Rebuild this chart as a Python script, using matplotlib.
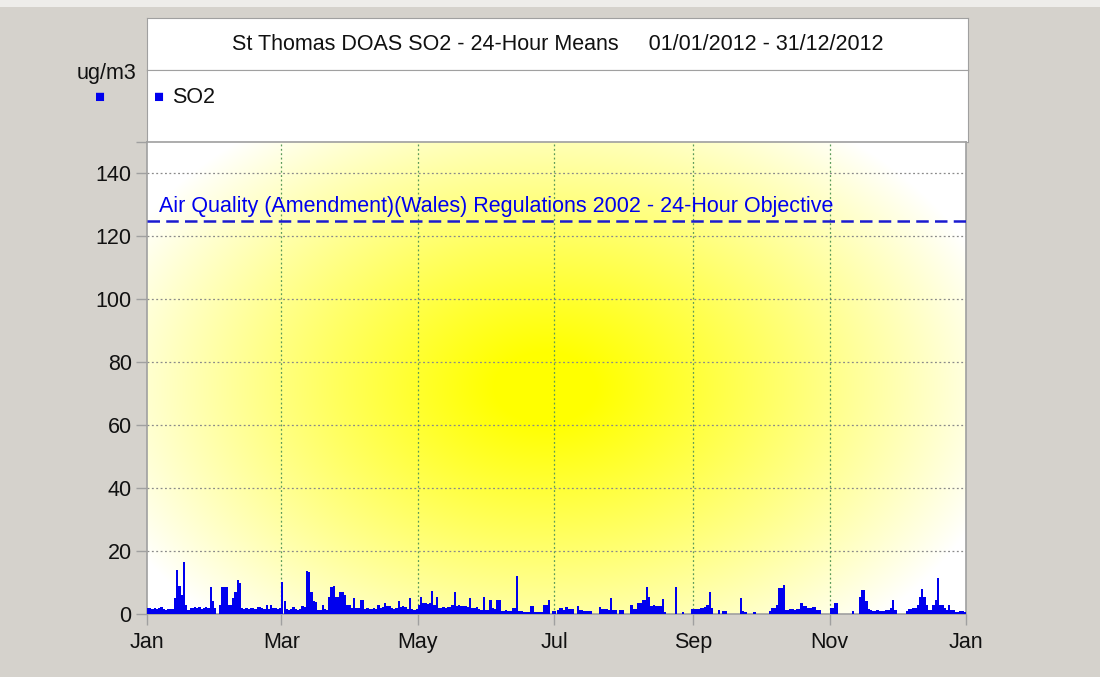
import numpy as np
import matplotlib
matplotlib.use("Agg")
import matplotlib.pyplot as plt
import matplotlib.dates as mdates
import datetime as dt

plt.rcParams['font.family'] = ['Liberation Sans', 'DejaVu Sans']

# daily SO2 means, ug/m3, one list per month of 2012
jan = [1.8, 2.0, 1.7, 1.9, 1.6, 2.0, 2.1, 1.5, 1.4, 1.6, 1.5, 1.7, 5.0, 14.0, 9.0, 6.0,
       16.4, 3.0, 1.3, 2.0, 1.8, 2.2, 1.9, 2.1, 1.7, 2.0, 2.3, 1.9, 8.7, 4.0, 2.0]
feb = [0, 3.0, 8.7, 8.7, 8.5, 3.0, 2.8, 5.0, 7.0, 10.8, 9.7, 1.8, 1.7, 2.0, 1.6, 1.8,
       1.9, 1.7, 2.3, 2.2, 1.8, 1.7, 3.0, 1.5, 3.0, 1.8, 1.9, 1.6, 1.8]
mar = [10.3, 4.0, 1.5, 1.4, 1.6, 2.3, 1.5, 1.4, 1.6, 2.6, 2.3, 13.7, 13.2, 7.0, 4.0, 3.8,
       1.3, 1.2, 3.0, 1.5, 1.4, 5.5, 8.7, 9.0, 5.5, 5.5, 7.0, 7.0, 6.0, 3.0, 3.0]
apr = [1.8, 5.2, 2.0, 2.0, 4.5, 4.5, 1.6, 1.8, 1.5, 1.7, 1.9, 1.6, 3.0, 2.0, 2.2, 3.6,
       2.5, 2.4, 1.8, 1.7, 1.9, 4.0, 2.3, 2.4, 2.2, 1.6, 5.0, 1.5, 1.4, 1.6]
may = [3.0, 5.5, 3.4, 3.4, 3.2, 3.5, 7.3, 2.8, 5.5, 2.0, 1.8, 2.2, 2.0, 2.3, 2.1, 3.0,
       7.0, 2.6, 2.8, 2.5, 2.7, 2.4, 2.2, 5.0, 2.0, 1.8, 2.2, 1.5, 1.3, 5.5, 1.3]
jun = [1.2, 4.5, 1.8, 1.6, 4.5, 4.5, 1.1, 1.0, 1.2, 1.0, 1.1, 2.0, 2.0, 12.2, 1.0, 1.0,
       0.5, 0.5, 0.5, 2.6, 2.6, 0.6, 0.5, 0.6, 0.5, 2.8, 2.8, 4.5, 0, 1.0]
jul = [1.0, 1.2, 1.8, 1.8, 1.3, 2.3, 1.6, 1.5, 1.7, 0, 2.6, 1.3, 1.3, 1.0, 1.0, 1.0,
       1.0, 0, 0, 0, 2.3, 1.5, 1.5, 1.5, 1.4, 5.0, 1.3, 1.3, 0, 1.3, 1.3]
aug = [0, 0, 0, 2.8, 1.5, 1.5, 3.4, 3.4, 4.5, 4.5, 8.5, 5.5, 2.5, 2.8, 2.4, 2.6,
       2.5, 4.7, 0.7, 0, 0, 0, 0, 8.7, 0, 0, 0.7, 0, 0, 0, 1.5]
sep = [1.5, 1.6, 1.6, 2.0, 2.0, 2.1, 2.8, 6.9, 1.8, 0, 0, 1.3, 0, 1.0, 1.0, 0,
       0, 0, 0, 0, 0, 5.0, 1.0, 0.5, 0, 0, 0, 0.7, 0, 0]
oct_ = [0, 0, 0, 0, 1.0, 1.8, 1.8, 2.8, 8.2, 8.2, 9.2, 1.3, 1.3, 1.6, 1.6, 1.3,
        1.6, 1.6, 3.4, 2.6, 2.6, 1.8, 1.8, 2.3, 2.3, 1.3, 1.3, 0, 0, 0, 0]
nov = [1.8, 1.8, 3.6, 3.6, 0, 0, 0, 0, 0, 0, 1.0, 0, 0, 5.5, 7.6, 7.6,
       4.0, 1.6, 1.2, 1.0, 1.1, 1.2, 1.0, 1.1, 1.0, 1.2, 1.3, 2.0, 4.5, 1.3]
dec = [0, 0, 0, 0, 1.0, 1.6, 1.6, 1.8, 1.8, 2.8, 5.5, 7.8, 5.5, 2.8, 1.3, 1.3,
       2.8, 4.5, 11.3, 2.8, 2.8, 1.8, 1.3, 2.8, 1.3, 1.3, 0.7, 0.7, 1.0, 1.0, 0.7]

so2 = jan + feb + mar + apr + may + jun + jul + aug + sep + oct_ + nov + dec
days = [dt.date(2012, 1, 1) + dt.timedelta(days=i) for i in range(len(so2))]

objective = 125
objective_label = "Air Quality (Amendment)(Wales) Regulations 2002 - 24-Hour Objective"
title = "St Thomas DOAS SO2 - 24-Hour Means     01/01/2012 - 31/12/2012"
month_ticks = [dt.date(2012, m, 1) for m in (1, 3, 5, 7, 9, 11)] + [dt.date(2013, 1, 1)]
month_labels = ['Jan', 'Mar', 'May', 'Jul', 'Sep', 'Nov', 'Jan']

W, H = 1100, 677
fs = 15.5
fig = plt.figure(figsize=(W / 100, H / 100), dpi=100, facecolor='#d5d2cc')
border = '#a0a0a0'
blue = '#0000ee'
ink = '#111111'

def box(x0, y0, x1, y1):
    return [x0 / W, 1 - y1 / H, (x1 - x0) / W, (y1 - y0) / H]

# pale strip at the very top
strip = fig.add_axes(box(0, 0, W, 7))
strip.set_facecolor('#eeedea')
strip.set_xticks([]); strip.set_yticks([])
for s in strip.spines.values():
    s.set_visible(False)

# title box
tax = fig.add_axes(box(147, 18, 968, 70))
tax.set_xticks([]); tax.set_yticks([])
for s in tax.spines.values():
    s.set_color(border)
tax.text(0.5, 0.5, title, ha='center', va='center', fontsize=fs, color=ink,
         transform=tax.transAxes)

# legend box
lax = fig.add_axes(box(147, 70, 968, 142))
lax.set_xticks([]); lax.set_yticks([])
for s in lax.spines.values():
    s.set_color(border)
lax.text(0.008, 0.62, '\u25a0', ha='left', va='center', fontsize=12, color=blue,
         transform=lax.transAxes)
lax.text(0.03, 0.62, 'SO2', ha='left', va='center', fontsize=fs, color=ink,
         transform=lax.transAxes)

fig.text(107 / W, 1 - 74 / H, 'ug/m3', ha='center', va='center', fontsize=fs, color=ink)
fig.text(100 / W, 1 - 97 / H, '\u25a0', ha='center', va='center', fontsize=12, color=blue)

# main plot
ax = fig.add_axes(box(147, 142, 966, 614))
ax.set_facecolor('white')

# yellow glow behind the data
ny, nx = 472, 819
yy, xx = np.mgrid[0:ny, 0:nx]
r = np.sqrt(((xx - 398) / 470.0) ** 2 + ((yy - 245) / 325.0) ** 2)
f = np.clip((1 - r) * 1.12, 0, 1) ** 0.95
img = np.ones((ny, nx, 3))
img[..., 2] = 1 - f
ax.imshow(img, extent=[0, 1, 0, 1], transform=ax.transAxes, aspect='auto', zorder=0,
          interpolation='bilinear')

x = mdates.date2num(days)
ax.bar(x, so2, width=1.0, align='edge', color=blue, linewidth=0, zorder=3)

ax.axhline(objective, color='#1a1ad0', linestyle=(0, (5, 2.5)), linewidth=1.8, zorder=4)
ax.text(0.015, 126.2 / 150, objective_label, transform=ax.transAxes,
        ha='left', va='bottom', fontsize=fs, color=blue, zorder=5)

ax.set_xlim(mdates.date2num(dt.date(2012, 1, 1)), mdates.date2num(dt.date(2013, 1, 1)))
ax.set_ylim(0, 150)
ax.set_xticks(mdates.date2num(month_ticks))
ax.set_xticklabels(month_labels)
ax.set_yticks([0, 20, 40, 60, 80, 100, 120, 140, 150])
ax.set_yticklabels(['0', '20', '40', '60', '80', '100', '120', '140', ''])
ax.tick_params(axis='both', labelsize=fs, colors=border, labelcolor=ink,
               length=8, width=1, direction='out')
ax.tick_params(axis='x', pad=5)
ax.tick_params(axis='y', pad=3)

for yv in range(20, 150, 20):
    ax.axhline(yv, color='#8a8a8a', linestyle=(0, (1.5, 2)), linewidth=0.9, zorder=1)
for d in month_ticks[1:-1]:
    ax.axvline(mdates.date2num(d), color='#5a9a5a', linestyle=(0, (1.5, 2)),
               linewidth=0.9, zorder=1)

for s in ax.spines.values():
    s.set_color(border)
    s.set_linewidth(1.2)

fig.savefig('out.png', dpi=100, facecolor=fig.get_facecolor())
